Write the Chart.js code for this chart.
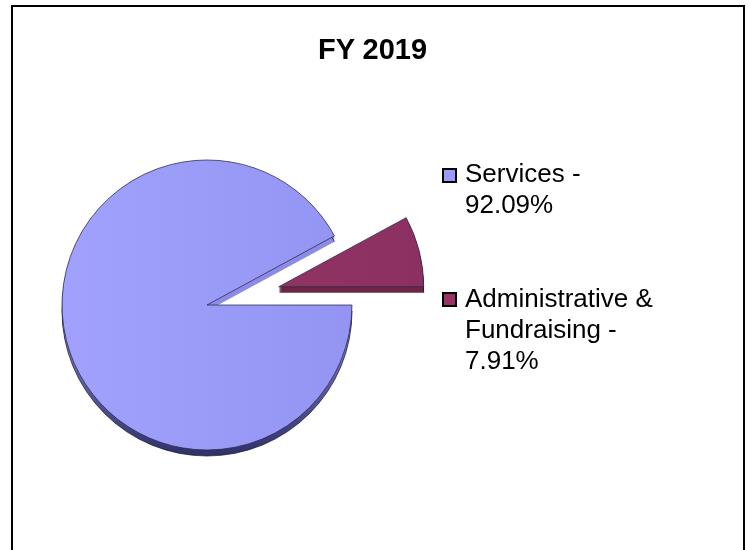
<!DOCTYPE html>
<html>
<head>
<meta charset="utf-8">
<title>FY 2019</title>
<script src="https://cdn.jsdelivr.net/npm/chart.js@4.4.0/dist/chart.umd.min.js"></script>
<style>
  body { margin: 0; background: #fff; font-family: "Liberation Sans", Arial, sans-serif; }
  #wrap { position: relative; width: 750px; height: 550px; overflow: hidden; }
  #frame { position: absolute; left: 11px; top: 5px; width: 730px; height: 600px; border: 2px solid #000; }
  #chart { position: absolute; left: 0; top: 0; }
  #title { position: absolute; left: 0; top: 35px; width: 745px; text-align: center;
           font-weight: bold; font-size: 29px; line-height: 29px; color: #000; }
  .legend-item { position: absolute; left: 465px; width: 205px; font-size: 26px; line-height: 31px; color: #000; }
  .legend-box { position: absolute; left: -23px; top: 9.5px; width: 15px; height: 15px;
                box-sizing: border-box; border: 2px solid #000; }
</style>
</head>
<body>
<div id="wrap">
  <div id="frame"></div>
  <canvas id="chart" width="750" height="550"></canvas>
  <div id="title"></div>
  <div id="legend"></div>
</div>
<script>
// chart data
var chartTitle = "FY 2019";
var categories = ["Services", "Administrative & Fundraising"];
var percentages = [92.09, 7.91];

// styling
var legendColors = ["#9999ff", "#993366"];
var faceColors = [["#a3a3ff", "#8f8fee"], ["#983868", "#8a3060"]];
var sideColors = [["#8c8ce8", "#30306a"], ["#6e2646", "#5a1d38"]];
var explode = [0, 74]; // px the slice is pulled out
var depth = 6; // thickness of the 3d edge
var legendTops = [158, 282.5];

// pull slices out along their middle angle
var explodePlugin = {
    id: "explode",
    afterDatasetUpdate: function (chart, args) {
        var arcs = args.meta.data;
        for (var i = 0; i < arcs.length; i++) {
            var mid = (arcs[i].startAngle + arcs[i].endAngle) / 2;
            arcs[i].x += Math.cos(mid) * explode[i];
            arcs[i].y += Math.sin(mid) * explode[i];
        }
    }
};

// draw the side of each slice under the top face
var extrudePlugin = {
    id: "extrude",
    beforeDatasetsDraw: function (chart) {
        var ctx = chart.ctx;
        var arcs = chart.getDatasetMeta(0).data;
        for (var i = 0; i < arcs.length; i++) {
            var a = arcs[i];
            var g = ctx.createLinearGradient(0, a.y - a.outerRadius, 0, a.y + a.outerRadius + depth);
            g.addColorStop(0, sideColors[i][0]);
            g.addColorStop(0.5, sideColors[i][0]);
            g.addColorStop(1, sideColors[i][1]);
            ctx.save();
            ctx.fillStyle = g;
            for (var d = 1; d <= depth; d++) {
                ctx.beginPath();
                ctx.moveTo(a.x, a.y + d);
                ctx.arc(a.x, a.y + d, a.outerRadius, a.startAngle, a.endAngle);
                ctx.closePath();
                ctx.fill();
            }
            // dark rim line at the bottom
            ctx.beginPath();
            ctx.arc(a.x, a.y + depth, a.outerRadius, a.startAngle, a.endAngle);
            ctx.strokeStyle = "rgba(20,20,40,0.7)";
            ctx.lineWidth = 1;
            ctx.stroke();
            ctx.restore();
        }
    }
};

// slight left-to-right shading of the top face
function faceColor(context) {
    var i = context.dataIndex;
    var area = context.chart.chartArea;
    if (!area) {
        return faceColors[i][0];
    }
    var g = context.chart.ctx.createLinearGradient(area.left, 0, area.right + 60, 0);
    g.addColorStop(0, faceColors[i][0]);
    g.addColorStop(1, faceColors[i][1]);
    return g;
}

document.getElementById("title").textContent = chartTitle;

// html legend, text wraps like the original
var legend = document.getElementById("legend");
for (var i = 0; i < categories.length; i++) {
    var item = document.createElement("div");
    item.className = "legend-item";
    item.style.top = legendTops[i] + "px";
    var box = document.createElement("span");
    box.className = "legend-box";
    box.style.background = legendColors[i];
    item.appendChild(box);
    item.appendChild(document.createTextNode(categories[i] + " - " + percentages[i].toFixed(2) + "%"));
    legend.appendChild(item);
}

var chartContext = document.getElementById("chart").getContext("2d");
var pieChart = new Chart(chartContext, {
    type: "pie",
    data: {
        labels: categories,
        datasets: [
            {
                data: percentages,
                backgroundColor: faceColor,
                borderColor: "rgba(40,40,70,0.75)",
                borderWidth: 1
            }
        ]
    },
    options: {
        responsive: false,
        animation: false,
        rotation: 90,
        radius: 145,
        layout: {
            padding: { left: 24, right: 360, top: 120, bottom: 60 }
        },
        plugins: {
            legend: { display: false },
            tooltip: { enabled: false },
            title: { display: false }
        }
    },
    plugins: [explodePlugin, extrudePlugin]
});
</script>
</body>
</html>
